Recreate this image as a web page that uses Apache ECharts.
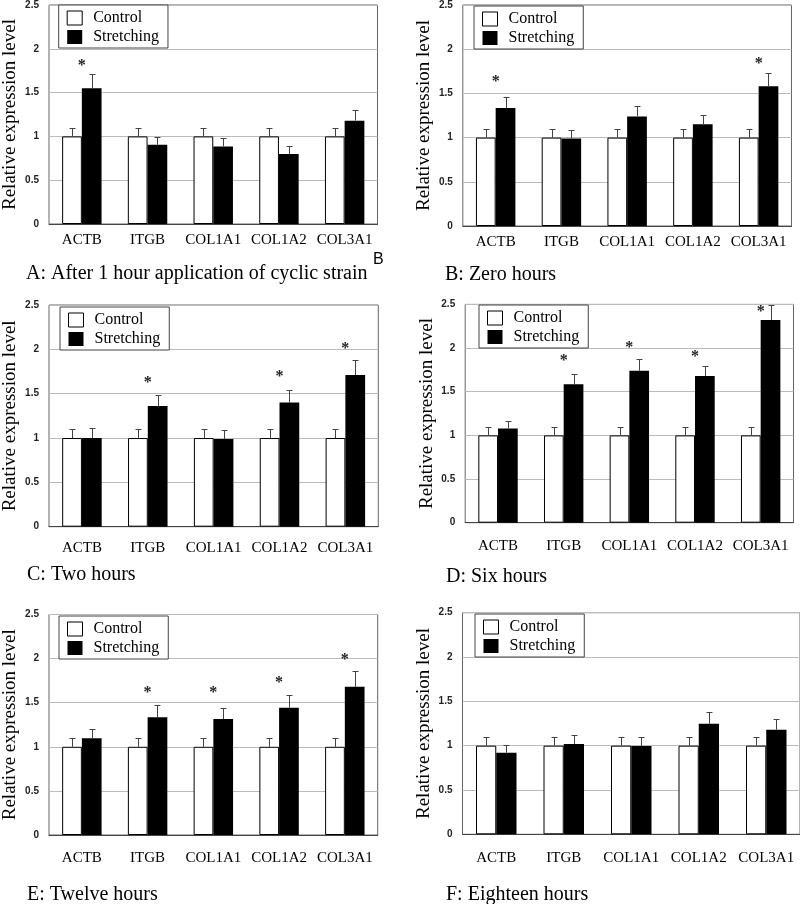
<!DOCTYPE html>
<html>
<head>
<meta charset="utf-8">
<script src="https://cdn.jsdelivr.net/npm/echarts@6/dist/echarts.min.js"></script>
<style>
html,body{margin:0;padding:0;background:#fff;}
#chart{width:800px;height:904px;}
</style>
</head>
<body>
<div id="chart"></div>
<script>
// ---- data ----
const categories = ['ACTB', 'ITGB', 'COL1A1', 'COL1A2', 'COL3A1'];
const yMin = 0, yMax = 2.5, yInterval = 0.5;
const seriesNames = ['Control', 'Stretching'];
const captions = [
  'A: After 1 hour application of cyclic strain',
  'B: Zero hours',
  'C: Two hours',
  'D: Six hours',
  'E: Twelve hours',
  'F: Eighteen hours'
];
const controlValues = [1, 1, 1, 1, 1];
const controlErrTops = [1.1, 1.1, 1.1, 1.1, 1.1];

const stretchA = [1.55, 0.905, 0.886, 0.80, 1.18];
const stretchErrA = [1.71, 0.996, 0.977, 0.89, 1.30];
const starsA = [1.84, null, null, null, null];

const stretchB = [1.335, 0.99, 1.24, 1.15, 1.58];
const stretchErrB = [1.46, 1.087, 1.36, 1.26, 1.735];
const starsB = [1.66, null, null, null, 1.87];

const stretchC = [1.0, 1.36, 0.99, 1.40, 1.71];
const stretchErrC = [1.11, 1.49, 1.09, 1.54, 1.88];
const starsC = [null, 1.66, null, 1.72, 2.04];

const stretchD = [1.08, 1.585, 1.74, 1.68, 2.32];
const stretchErrD = [1.16, 1.70, 1.87, 1.79, 2.49];
const starsD = [null, 1.89, 2.04, 1.93, 2.45];

const stretchE = [1.096, 1.334, 1.315, 1.443, 1.68];
const stretchErrE = [1.205, 1.47, 1.443, 1.59, 1.856];
const starsE = [null, 1.65, 1.65, 1.76, 2.02];

const stretchF = [0.92, 1.02, 0.995, 1.247, 1.18];
const stretchErrF = [1.01, 1.123, 1.10, 1.375, 1.297];
const starsF = [null, null, null, null, null];

const panelStretch = [stretchA, stretchB, stretchC, stretchD, stretchE, stretchF];
const panelStretchErr = [stretchErrA, stretchErrB, stretchErrC, stretchErrD, stretchErrE, stretchErrF];
const panelStars = [starsA, starsB, starsC, starsD, starsE, starsF];

// ---- layout (style only) ----
const grids = [
  {left: 46, top: 4, width: 331.5, height: 220},
  {left: 462.8, top: 4.5, width: 328.7, height: 221.5},
  {left: 47.8, top: 305, width: 330.5, height: 221.7},
  {left: 465.2, top: 304.4, width: 328.3, height: 218.3},
  {left: 48.2, top: 614.5, width: 329.5, height: 220.5},
  {left: 462.5, top: 612.7, width: 337.5, height: 221.6}
];
const labelMargins = [9, 9, 14, 16, 16, 16];
const legendPos = [[58.7, 5], [474, 6], [60, 307], [479, 305], [59, 616], [475, 614]];
const captionPos = [[26, 264], [445, 265], [27, 565], [446, 567], [27, 885], [446, 885]];

const SERIF = "'Liberation Serif', 'Times New Roman', serif";
const SANS = "'Liberation Sans', Arial, sans-serif";

const option = {
  animation: false,
  backgroundColor: '#fff',
  title: [],
  legend: [],
  grid: [],
  xAxis: [],
  yAxis: [],
  series: [],
  graphic: [{
    type: 'text', left: 373, top: 252,
    style: {text: 'B', font: '16px ' + SANS, fill: '#000'}
  }]
};

function errRender(params, api) {
  const idx = api.value(0);
  const bottom = api.coord([idx, api.value(1)]);
  const top = api.coord([idx, api.value(2)]);
  const bw = api.size([1, 0])[0];
  const x = Math.round(top[0] + (api.value(3) ? 0.15 : -0.15) * bw) + 0.5;
  const yt = Math.round(top[1]) + 0.5;
  return {
    type: 'group',
    children: [
      {type: 'line', shape: {x1: x, y1: bottom[1], x2: x, y2: yt}, style: {stroke: '#444', lineWidth: 1}},
      {type: 'line', shape: {x1: x - 3, y1: yt, x2: x + 3, y2: yt}, style: {stroke: '#444', lineWidth: 1}}
    ]
  };
}
function starRender(params, api) {
  const p = api.coord([api.value(0), api.value(1)]);
  return {
    type: 'text',
    style: {text: '*', x: p[0], y: p[1] + 3, align: 'center', verticalAlign: 'middle',
      font: 'bold 16px ' + SERIF, fill: '#222'}
  };
}

for (let i = 0; i < 6; i++) {
  option.grid.push(Object.assign({show: true, borderColor: '#666', borderWidth: 1, backgroundColor: 'transparent'}, grids[i]));
  option.xAxis.push({
    type: 'category', gridIndex: i, data: categories,
    axisTick: {show: false},
    axisLine: {lineStyle: {color: '#444', width: 1}},
    axisLabel: {fontFamily: SERIF, fontSize: 15, color: '#000', margin: labelMargins[i], interval: 0}
  });
  option.yAxis.push({
    type: 'value', gridIndex: i, min: yMin, max: yMax, interval: yInterval,
    name: 'Relative expression level', nameLocation: 'middle', nameGap: 29, nameRotate: 90,
    nameTextStyle: {fontFamily: SERIF, fontSize: 19, color: '#000'},
    axisLine: {show: false}, axisTick: {show: false},
    axisLabel: {fontFamily: SANS, fontSize: 10, fontWeight: 'bold', color: '#222', margin: 10},
    splitLine: {show: true, lineStyle: {color: '#bbb', width: 1}}
  });
  option.title.push({
    text: captions[i], left: captionPos[i][0], top: captionPos[i][1], padding: 0,
    textStyle: {fontFamily: SERIF, fontSize: 20, fontWeight: 'normal', color: '#000'}
  });
  option.legend.push({
    orient: 'vertical', left: legendPos[i][0], top: legendPos[i][1],
    padding: [5, 9, 3, 8], itemGap: 3, itemWidth: 15, itemHeight: 14,
    borderColor: '#444', borderWidth: 1, backgroundColor: '#fff',
    textStyle: {fontFamily: SERIF, fontSize: 16, color: '#000', padding: [0, 0, 0, 6]},
    data: [
      {name: seriesNames[0], icon: 'rect', itemStyle: {color: '#fff', borderColor: '#000', borderWidth: 1}},
      {name: seriesNames[1], icon: 'rect', itemStyle: {color: '#000', borderWidth: 0}}
    ]
  });
  option.series.push({
    name: seriesNames[0], type: 'bar', xAxisIndex: i, yAxisIndex: i,
    data: controlValues, barWidth: '30%', barGap: '0%',
    itemStyle: {color: '#fff', borderColor: '#000', borderWidth: 1}
  });
  option.series.push({
    name: seriesNames[1], type: 'bar', xAxisIndex: i, yAxisIndex: i,
    data: panelStretch[i], barWidth: '30%', barGap: '0%',
    itemStyle: {color: '#000'}
  });
  const errData = [];
  categories.forEach((c, k) => {
    errData.push([k, controlValues[k], controlErrTops[k], 0]);
    errData.push([k, panelStretch[i][k], panelStretchErr[i][k], 1]);
  });
  option.series.push({
    type: 'custom', xAxisIndex: i, yAxisIndex: i, renderItem: errRender,
    data: errData, z: 3, silent: true
  });
  const starData = [];
  panelStars[i].forEach((v, k) => { if (v !== null) starData.push([k, v]); });
  option.series.push({
    type: 'custom', xAxisIndex: i, yAxisIndex: i, renderItem: starRender,
    data: starData, z: 4, silent: true
  });
}

const chart = echarts.init(document.getElementById('chart'), null, {renderer: 'canvas'});
chart.setOption(option);
</script>
</body>
</html>
